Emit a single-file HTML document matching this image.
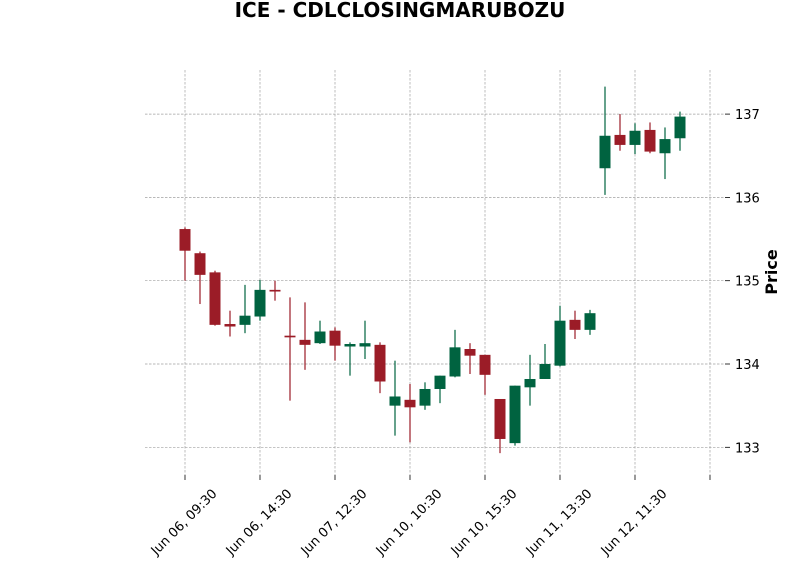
<!DOCTYPE html>
<html><head><meta charset="utf-8"><style>
body{margin:0;background:#fff;}
svg{display:block;font-family:"Liberation Sans","DejaVu Sans",sans-serif;}
</style></head><body>
<svg id="chart" width="800" height="575" viewBox="0 0 800 575">
<text x="400" y="17" text-anchor="middle" font-size="20" font-weight="bold" font-family="DejaVu Sans, sans-serif">ICE - CDLCLOSINGMARUBOZU</text>
<text x="777" y="272" text-anchor="middle" font-size="16" font-weight="bold" font-family="DejaVu Sans, sans-serif" transform="rotate(-90 777 272)">Price</text>
<g id="grid"></g><g id="candles"></g><g id="axes"></g>
</svg>
<script>
const opens=[135.62,135.33,135.10,134.48,134.47,134.57,134.89,134.34,134.29,134.25,134.40,134.21,134.21,134.23,133.50,133.57,133.50,133.70,133.85,134.18,134.11,133.58,133.05,133.72,133.82,133.98,134.53,134.41,136.35,136.75,136.63,136.81,136.53,136.71];
const highs=[135.64,135.35,135.12,134.64,134.95,135.01,135.00,134.80,134.74,134.52,134.44,134.26,134.52,134.26,134.04,133.76,133.78,133.86,134.41,134.25,134.11,133.58,133.74,134.11,134.24,134.70,134.64,134.65,137.33,137.00,136.89,136.90,136.84,137.03];
const lows=[135.00,134.72,134.46,134.33,134.37,134.52,134.76,133.56,133.93,134.24,134.04,133.86,134.06,133.65,133.14,133.06,133.45,133.53,133.84,133.88,133.63,132.93,133.02,133.50,133.82,133.97,134.30,134.35,136.03,136.56,136.52,136.53,136.22,136.56];
const closes=[135.36,135.07,134.47,134.45,134.58,134.89,134.87,134.32,134.23,134.39,134.22,134.24,134.25,133.79,133.61,133.48,133.70,133.86,134.20,134.10,133.87,133.10,133.74,133.82,134.00,134.52,134.41,134.61,136.74,136.63,136.80,136.55,136.70,136.97];
const yTicks=[133,134,135,136,137];
const xTickLabels=["Jun 06, 09:30","Jun 06, 14:30","Jun 07, 12:30","Jun 10, 10:30","Jun 10, 15:30","Jun 11, 13:30","Jun 12, 11:30",""];
const NS="http://www.w3.org/2000/svg";
const X=i=>185+15*i;
const Y=v=>364-(v-134)*83.3;
const L=145,R=725,T=70,B=475;
function mk(t,a,p){const e=document.createElementNS(NS,t);for(const k in a)e.setAttribute(k,a[k]);p.appendChild(e);return e;}
const grid=document.getElementById('grid'),cg=document.getElementById('candles'),ax=document.getElementById('axes');
yTicks.forEach(v=>{
 const g=mk('line',{x1:L,x2:R,y1:Y(v),y2:Y(v),stroke:'#a0a0a0','stroke-width':0.7,'stroke-dasharray':'2.5,1.5'},grid);
 
 
 const t=mk('line',{x1:R,x2:R+5,y1:Y(v),y2:Y(v),stroke:'#000','stroke-width':0.8},ax);
 
 
 const tx=mk('text',{x:R+10,y:Y(v)+5,'font-size':13,'font-family':'DejaVu Sans, sans-serif'},ax);
 tx.textContent=v;
 
 
});
xTickLabels.forEach((s,k)=>{
 const x=X(k*5);
 const g=mk('line',{x1:x,x2:x,y1:T,y2:B,stroke:'#a0a0a0','stroke-width':0.7,'stroke-dasharray':'2.5,1.5'},grid);
 
 
 const t=mk('line',{x1:x,x2:x,y1:B,y2:B+5,stroke:'#000','stroke-width':0.8},ax);
 
 
 if(s){
  const cx=x+2,cy=B+50;
  const tx=mk('text',{x:cx,y:cy,'font-size':13,'text-anchor':'middle','font-family':'DejaVu Sans, sans-serif',transform:`rotate(-45 ${cx} ${cy})`},ax);
  tx.textContent=s;
  
  
 }
});
opens.forEach((o,i)=>{
 const c=closes[i],up=c>=o,col=up?'#006340':'#9b1c27',x=X(i);
 const w=mk('line',{x1:x,x2:x,y1:Y(highs[i]),y2:Y(lows[i]),stroke:col,'stroke-width':1.2},cg);
 
 
 const top=Y(Math.max(o,c)),h=Math.max(1.5,Math.abs(Y(o)-Y(c)));
 const r=mk('rect',{x:x-5.5,y:top,width:11,height:h,fill:col},cg);
 
 
});
</script>
</body></html>
